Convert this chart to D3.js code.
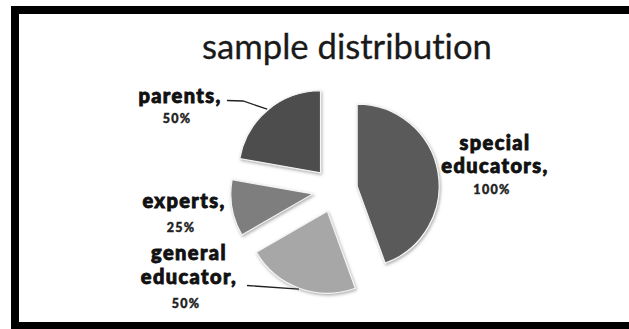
<!DOCTYPE html>
<html>
<head>
<meta charset="utf-8">
<script src="https://cdn.jsdelivr.net/npm/d3@7/dist/d3.min.js"></script>
<style>
  html, body { margin: 0; padding: 0; background: #fff; }
  svg { display: block; }
  text { font-variant-ligatures: none; }
</style>
</head>
<body>
<svg id="chart" width="629" height="329"></svg>
<script>
// chart data
var categories = ["special educators", "general educator", "experts", "parents"];
var values = [100, 50, 25, 50];
var percentLabels = ["100%", "50%", "25%", "50%"];
var title = "sample distribution";

// styles, kept apart from the data
var sliceColors = ["#5a5a5a", "#a7a7a7", "#7e7e7e", "#4e4e4e"];

var width = 629, height = 329;
var svg = d3.select("#chart");

// frame (right edge runs off the picture)
svg.append("rect")
    .attr("x", 15).attr("y", 10)
    .attr("width", 640).attr("height", 316)
    .attr("fill", "#fff")
    .attr("stroke", "#000")
    .attr("stroke-width", 8);

// title, sized to the width it has in the reference
var titleText = svg.append("text")
    .attr("x", 347).attr("y", 59)
    .attr("text-anchor", "middle")
    .attr("font-family", "Lato, 'Open Sans', sans-serif")
    .attr("font-size", 28)
    .attr("fill", "#1a1a1a")
    .attr("stroke", "#1a1a1a")
    .attr("stroke-width", 0.3)
    .text(title);
var tw = titleText.node().getComputedTextLength();
titleText.attr("font-size", 28 * 290 / tw);

var defs = svg.append("defs");
var f = defs.append("filter").attr("id", "shadow")
    .attr("x", "-20%").attr("y", "-20%").attr("width", "140%").attr("height", "140%");
f.append("feDropShadow")
    .attr("dx", 1).attr("dy", 1.5)
    .attr("stdDeviation", 1.6)
    .attr("flood-color", "#777")
    .attr("flood-opacity", 0.6);

var cx = 335, cy = 190, radius = 82, explode = 22.5;

var pie = d3.pie().sort(null).value(function(d) { return d; });
var arc = d3.arc().innerRadius(0).outerRadius(radius);
var arcs = pie(values);

function midAngle(d) { return (d.startAngle + d.endAngle) / 2; }
function offset(d, r) {
  var a = midAngle(d);
  return [Math.sin(a) * r, -Math.cos(a) * r];
}

var g = svg.append("g").attr("transform", "translate(" + cx + "," + cy + ")");

g.selectAll("path.slice")
    .data(arcs)
    .enter().append("path")
    .attr("class", "slice")
    .attr("transform", function(d) {
      var o = offset(d, explode);
      return "translate(" + o[0] + "," + o[1] + ")";
    })
    .attr("d", arc)
    .attr("fill", function(d, i) { return sliceColors[i]; })
    .attr("stroke", "#f4f4f4")
    .attr("stroke-width", 1.2)
    .attr("filter", "url(#shadow)");

// label layout: center x, first baseline, line gap, percent baseline
var labelLayout = [
  { x: 495, y: 149.5, lines: ["special", "educators,"], gap: 23.5, pctY: 194 },
  { x: 189, y: 260, lines: ["general", "educator,"], gap: 23.5, pctY: 308 },
  { x: 184, y: 208, lines: ["experts,"], gap: 0, pctY: 231.5 },
  { x: 180, y: 103, lines: ["parents,"], gap: 0, pctY: 122.5 }
];

var labelFont = "Lato, 'DejaVu Sans', sans-serif";

labelLayout.forEach(function(l, i) {
  l.lines.forEach(function(line, j) {
    svg.append("text")
        .attr("x", l.x).attr("y", l.y + j * l.gap)
        .attr("text-anchor", "middle")
        .attr("font-family", labelFont)
        .attr("font-weight", 900)
        .attr("font-size", 20)
        .attr("letter-spacing", 1.4)
        .attr("fill", "#111")
        .attr("stroke", "#111")
        .attr("stroke-width", 0.9)
        .text(line);
  });
  svg.append("text")
      .attr("x", l.x - 3).attr("y", l.pctY)
      .attr("text-anchor", "middle")
      .attr("font-family", labelFont)
      .attr("font-weight", 900)
      .attr("font-size", 12.5)
      .attr("letter-spacing", 1.3)
      .attr("fill", "#222")
      .attr("stroke", "#222")
      .attr("stroke-width", 0.4)
      .text(percentLabels[i]);
});

// leader lines to the outer arc of the exploded slices
function arcPoint(d) {
  var o = offset(d, explode);
  var a = midAngle(d);
  return [cx + o[0] + Math.sin(a) * (radius + 1), cy + o[1] - Math.cos(a) * (radius + 1)];
}

var leader = d3.line();
var pp = arcPoint(arcs[3]);
svg.append("path")
    .attr("d", leader([[227, 100.5], [243, 101], pp]))
    .attr("fill", "none").attr("stroke", "#222").attr("stroke-width", 1.3);

var gp = arcPoint(arcs[1]);
svg.append("path")
    .attr("d", leader([[247, 285.5], gp]))
    .attr("fill", "none").attr("stroke", "#222").attr("stroke-width", 1.3);
</script>
</body>
</html>
